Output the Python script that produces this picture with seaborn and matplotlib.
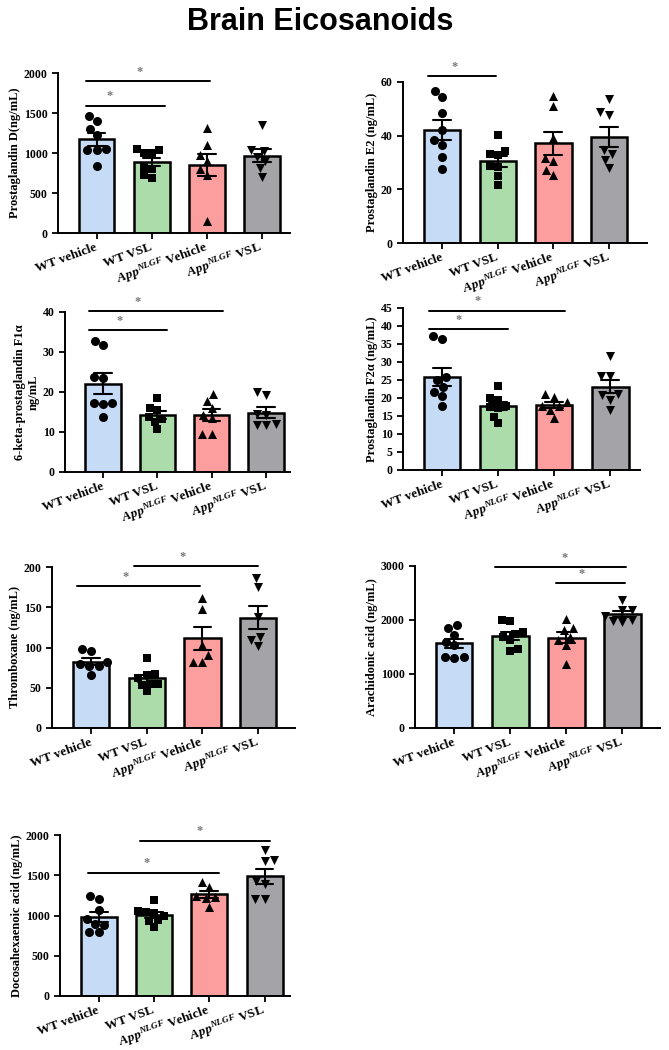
import numpy as np
import pandas as pd
import matplotlib
matplotlib.use('Agg')
import matplotlib.pyplot as plt
import seaborn as sns
import warnings
warnings.filterwarnings('ignore')

sns.set_style('ticks')
plt.rcParams['font.family'] = ['Liberation Serif', 'DejaVu Serif']
plt.rcParams['font.weight'] = 'bold'
plt.rcParams['mathtext.fontset'] = 'custom'
plt.rcParams['mathtext.it'] = 'Liberation Serif:italic'
plt.rcParams['mathtext.rm'] = 'Liberation Serif'
for k in ['text.color', 'axes.labelcolor', 'xtick.color', 'ytick.color', 'axes.edgecolor']:
    plt.rcParams[k] = 'black'

groups = ['WT vehicle', 'WT VSL', 'App Vehicle', 'App VSL']
tick_labels = ['WT vehicle', 'WT VSL',
               r'$\mathit{App}^{\mathit{NLGF}}$ Vehicle',
               r'$\mathit{App}^{\mathit{NLGF}}$ VSL']
colors = ['#c6dbf5', '#acdcaa', '#fc9e9e', '#a3a3a8']
markers = ['o', 's', '^', 'v']
msizes = [6.5, 5.5, 6.5, 6.5]

# values, one list per group
pgd2 = [[1467, 1404, 1300, 1220, 1040, 1040, 1050, 833],
        [1040, 1000, 1000, 1050, 800, 820, 690, 720],
        [1312, 1104, 896, 800, 979, 721, 154],
        [1350, 1035, 1030, 950, 900, 810, 700]]
pge2 = [[56.5, 54.4, 48.4, 42, 38.5, 36.5, 32, 27.7],
        [40.1, 34.3, 33.3, 32.9, 28.6, 28.3, 24.8, 21.7],
        [54.8, 50.9, 39.3, 31.8, 30.6, 25.2, 27.1],
        [53.5, 47.6, 48.8, 34.8, 33, 31, 28]]
keto = [[32.7, 31.7, 23.6, 23.8, 17, 17.2, 17.3, 13.7],
        [18.6, 16, 15.5, 13.8, 13.2, 12.5, 10.7],
        [19.5, 17.8, 15.9, 14.3, 13.4, 9.5, 9.5],
        [20.1, 19.3, 14.5, 14.2, 12, 11.8, 11.8]]
pgf2a = [[37.1, 36.4, 25.8, 25, 23, 21.8, 20.5, 17.9],
         [23.2, 19.9, 19.5, 17.8, 17.6, 17.2, 14.8, 13],
         [19, 20.2, 21, 17.8, 17.8, 16.7, 14.4],
         [31.7, 26.2, 26.2, 21.1, 20.9, 19.5, 16.7]]
txb = [[96, 98, 82, 80, 77, 77, 66],
       [87, 66, 62, 67, 55, 54, 55, 46],
       [162, 148, 103, 91, 82, 82],
       [186, 175, 138, 113, 109, 102]]
aa = [[1905, 1843, 1720, 1596, 1530, 1317, 1305, 1317],
      [1980, 2000, 1738, 1781, 1627, 1676, 1422, 1472],
      [2010, 1861, 1812, 1688, 1626, 1534, 1194],
      [2370, 2190, 2190, 2080, 2000, 1990, 1960]]
dha = [[1240, 1200, 1070, 960, 900, 880, 800, 790],
       [1190, 1060, 1030, 1000, 1040, 940, 930, 855],
       [1420, 1350, 1242, 1234, 1213, 1110],
       [1813, 1689, 1681, 1430, 1391, 1201, 1201]]

# significance lines: (x start, x end, height, star x)
sig_pgd2 = [(-0.2, 1.25, 1592, 0.24), (-0.2, 2.05, 1896, 0.78)]
sig_pge2 = [(-0.26, 0.97, 62.1, 0.23)]
sig_keto = [(-0.25, 1.17, 35.4, 0.3), (-0.25, 2.2, 40.2, 0.63)]
sig_pgf2a = [(-0.24, 1.17, 39.1, 0.3), (-0.24, 2.2, 44.3, 0.63)]
sig_txb = [(-0.25, 1.95, 176.5, 0.62), (0.78, 3.0, 201, 1.65)]
sig_aa = [(0.72, 3.06, 2975, 1.96), (1.81, 3.05, 2678, 2.28)]
sig_dha = [(-0.2, 2.18, 1532, 0.86), (0.74, 3.09, 1930, 1.82)]

panels = [
    # data, ylabel, ymax, ystep, sig, rect(px: left, top, right, bottom), xmax
    (pgd2, 'Prostaglandin D(ng/mL)', 2000, 500, sig_pgd2, (58, 73, 290, 233), 3.51),
    (pge2, 'Prostaglandin E2 (ng/mL)', 60, 20, sig_pge2, (403, 82, 647, 243), 3.68),
    (keto, '6-keta-prostaglandin F1α\nng/mL', 40, 10, sig_keto, (65, 312, 290, 472), 3.44),
    (pgf2a, 'Prostaglandin F2α (ng/mL)', 45, 5, sig_pgf2a, (403, 308, 640, 470), 3.53),
    (txb, 'Thromboxane (ng/mL)', 200, 50, sig_txb, (52, 567, 295, 728), 3.66),
    (aa, 'Arachidonic acid (ng/mL)', 3000, 1000, sig_aa, (415, 566, 660, 728), 3.67),
    (dha, 'Docosahexaenoic acid (ng/mL)', 2000, 500, sig_dha, (60, 835, 290, 996), 3.46),
]

W, H = 669, 1050
fig = plt.figure(figsize=(W / 100, H / 100), dpi=100)

for vals, ylabel, ymax, ystep, sigs, (l, t, r, b), xmax in panels:
    ax = fig.add_axes([l / W, 1 - b / H, (r - l) / W, (b - t) / H])
    df = pd.DataFrame({'group': np.repeat(groups, [len(v) for v in vals]),
                       'value': np.concatenate(vals)})
    sns.barplot(data=df, x='group', y='value', order=groups, hue='group',
                palette=colors, saturation=1, width=0.65, errorbar='se', capsize=0.32,
                err_kws={'color': 'black', 'linewidth': 1.5},
                edgecolor='black', linewidth=1.8, legend=False, ax=ax)
    for g, m, ms in zip(groups, markers, msizes):
        sns.swarmplot(data=df[df.group == g], x='group', y='value', order=groups,
                      marker=m, color='black', size=ms, ax=ax)
    for x0, x1, yy, sx in sigs:
        ax.plot([x0, x1], [yy, yy], color='black', lw=1.4, clip_on=False)
        ax.text(sx, yy + ymax * 0.02, '*', color='#777777', fontsize=9,
                ha='center', va='bottom', clip_on=False)
    ax.set_xlim(-0.7, xmax)
    ax.set_ylim(0, ymax)
    ax.set_yticks(np.arange(0, ymax + 1e-9, ystep))
    ax.set_xticks(range(4))
    ax.set_xticklabels(tick_labels, rotation=20, ha='right', va='center',
                       rotation_mode='anchor', fontsize=9.5, fontweight='bold')
    ax.tick_params(axis='y', labelsize=8.5, width=1.3, length=4)
    ax.tick_params(axis='x', width=1.3, length=4, pad=6)
    for lab in ax.get_yticklabels():
        lab.set_fontweight('bold')
    ax.set_xlabel('')
    ax.set_ylabel(ylabel, fontsize=9, fontweight='bold', labelpad=2)
    for s in ['left', 'bottom']:
        ax.spines[s].set_linewidth(1.4)
    sns.despine(ax=ax)

fig.text(0.478, 0.979, 'Brain Eicosanoids', ha='center', va='center',
         fontsize=22, fontweight='bold', family='Liberation Sans')

fig.savefig('out.png', dpi=100)
